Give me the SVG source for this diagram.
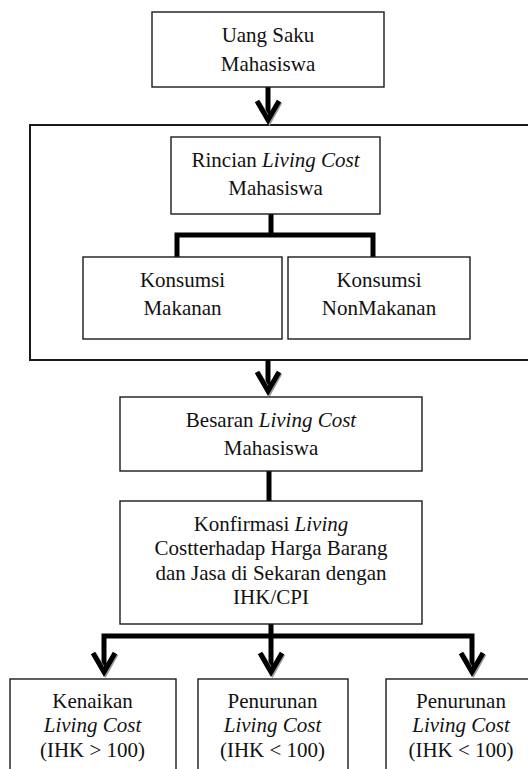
<svg xmlns="http://www.w3.org/2000/svg" xmlns:xlink="http://www.w3.org/1999/xlink" width="528" height="769" viewBox="0 0 528 769">
<style>
.box{fill:#fff;stroke:#1a1a1a;stroke-width:1.4}
.cont{fill:none;stroke:#1a1a1a;stroke-width:2}
text{font-family:'Liberation Serif','DejaVu Serif',serif;font-size:21px;fill:#111;text-anchor:middle}
.i{font-style:italic}
.c{fill:none;stroke:#000;stroke-width:5}
.hd{fill:none;stroke:#000;stroke-width:5;stroke-linejoin:miter}
.sh{fill:none;stroke:#999;stroke-width:5;stroke-linejoin:miter}
</style>
<defs>
<g id="head">
<polyline class="sh" points="-10,-23 1.5,-4 12,-23"/>
<polyline class="hd" points="-11,-24 0,-5 11,-24"/>
</g>
</defs>
<rect id="container" class="cont" x="30" y="125" width="510" height="235"/>
<g id="connectors">
<line class="c" x1="268" y1="87" x2="268" y2="118"/>
<use xlink:href="#head" x="268" y="125"/>
<line class="c" x1="271" y1="214" x2="271" y2="235"/>
<polyline class="c" points="177,257 177,235 373,235 373,257"/>
<line class="c" x1="268" y1="360" x2="268" y2="390"/>
<use xlink:href="#head" x="268" y="396"/>
<line class="c" x1="269" y1="471" x2="269" y2="501"/>
<line class="c" x1="271" y1="624" x2="271" y2="636"/>
<polyline class="c" points="104,671 104,636 472,636 472,671"/>
<line class="c" x1="271" y1="636" x2="271" y2="671"/>
<use xlink:href="#head" x="104" y="677"/>
<use xlink:href="#head" x="271" y="677"/>
<use xlink:href="#head" x="472" y="677"/>
</g>
<g font-family="Liberation Serif, serif">
<g id="uang">
<rect class="box" x="152" y="12" width="232" height="75"/>
<text x="268" y="42">Uang Saku</text>
<text x="268" y="70.5">Mahasiswa</text>
</g>
<g id="rincian">
<rect class="box" x="171" y="137" width="209" height="77"/>
<text x="275.5" y="166.5">Rincian <tspan class="i">Living Cost</tspan></text>
<text x="275.5" y="195">Mahasiswa</text>
</g>
<g id="makanan">
<rect class="box" x="83" y="257" width="199" height="82"/>
<text x="182.5" y="286.5">Konsumsi</text>
<text x="182.5" y="315">Makanan</text>
</g>
<g id="nonmakanan">
<rect class="box" x="288" y="257" width="182" height="82"/>
<text x="379" y="286.5">Konsumsi</text>
<text x="379" y="315">NonMakanan</text>
</g>
<g id="besaran">
<rect class="box" x="120" y="397" width="302" height="74"/>
<text x="271" y="426.5">Besaran <tspan class="i">Living Cost</tspan></text>
<text x="271" y="455">Mahasiswa</text>
</g>
<g id="konfirmasi">
<rect class="box" x="120" y="501" width="302" height="123"/>
<text x="271" y="530.5">Konfirmasi <tspan class="i">Living</tspan></text>
<text x="271" y="555">Costterhadap Harga Barang</text>
<text x="271" y="580">dan Jasa di Sekaran dengan</text>
<text x="271" y="604">IHK/CPI</text>
</g>
<g id="kenaikan">
<rect class="box" x="10" y="679" width="166" height="100"/>
<text x="92.5" y="708">Kenaikan</text>
<text class="i" x="92.5" y="732">Living Cost</text>
<text x="92.5" y="757">(IHK &gt; 100)</text>
</g>
<g id="penurunan1">
<rect class="box" x="198" y="679" width="150" height="100"/>
<text x="272.5" y="708">Penurunan</text>
<text class="i" x="272.5" y="732">Living Cost</text>
<text x="272.5" y="757">(IHK &lt; 100)</text>
</g>
<g id="penurunan2">
<rect class="box" x="386" y="679" width="160" height="100"/>
<text x="461" y="708">Penurunan</text>
<text class="i" x="461" y="732">Living Cost</text>
<text x="461" y="757">(IHK &lt; 100)</text>
</g>
</g>
</svg>
